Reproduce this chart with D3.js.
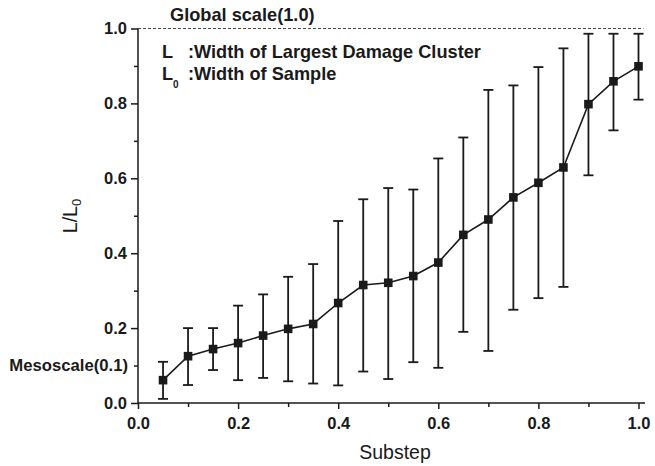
<!DOCTYPE html>
<html>
<head>
<meta charset="utf-8">
<script src="https://cdn.jsdelivr.net/npm/d3@7"></script>
<style>
  body { margin: 0; background: #fff; }
  svg { display: block; font-family: "Liberation Sans", Arial, sans-serif; }
  .tick text { font-weight: bold; font-size: 16.5px; fill: #1a1a1a; }
  .axis path { display: none; }
  .axis line { stroke: #1a1a1a; stroke-width: 1.5; }
</style>
</head>
<body>
<div class="chart"></div>
<script>
// Data
var substep = [0.05, 0.10, 0.15, 0.20, 0.25, 0.30, 0.35, 0.40, 0.45, 0.50,
               0.55, 0.60, 0.65, 0.70, 0.75, 0.80, 0.85, 0.90, 0.95, 1.00];
var ratio   = [0.061, 0.125, 0.144, 0.160, 0.180, 0.198, 0.211, 0.267, 0.315, 0.321,
               0.339, 0.375, 0.449, 0.490, 0.549, 0.588, 0.629, 0.798, 0.859, 0.899];
var lower   = [0.011, 0.048, 0.088, 0.061, 0.067, 0.058, 0.052, 0.047, 0.084, 0.064,
               0.109, 0.094, 0.190, 0.139, 0.249, 0.280, 0.310, 0.608, 0.728, 0.810];
var upper   = [0.110, 0.200, 0.200, 0.260, 0.290, 0.337, 0.371, 0.486, 0.544, 0.574,
               0.570, 0.653, 0.709, 0.836, 0.848, 0.897, 0.947, 0.986, 0.986, 0.986];

var xMajor = [0, 0.2, 0.4, 0.6, 0.8, 1.0];
var xMinor = [0.1, 0.3, 0.5, 0.7, 0.9];
var yMajor = [0, 0.2, 0.4, 0.6, 0.8, 1.0];
var yMinor = [0.1, 0.3, 0.5, 0.7, 0.9];

var globalScale = 1.0;
var mesoScale = 0.1;

var data = substep.map((s, i) => ({x: s, y: ratio[i], lo: lower[i], hi: upper[i]}));

var width = 655, height = 466;
var ink = "#1a1a1a";

var svg = d3.select(".chart").append("svg")
    .attr("width", width)
    .attr("height", height);

var x = d3.scaleLinear().domain([0, 1]).range([138, 638.5]);
var y = d3.scaleLinear().domain([0, 1]).range([403, 28.5]);

// axes
svg.append("g")
    .attr("class", "axis")
    .attr("transform", "translate(0," + y(0) + ")")
    .call(d3.axisBottom(x).tickValues(xMajor).tickSize(6).tickPadding(8).tickFormat(d3.format(".1f")));

svg.append("g")
    .attr("class", "axis")
    .attr("transform", "translate(0," + y(0) + ")")
    .call(d3.axisBottom(x).tickValues(xMinor).tickSize(4).tickFormat(""));

svg.append("g")
    .attr("class", "axis")
    .attr("transform", "translate(" + x(0) + ",0)")
    .call(d3.axisLeft(y).tickValues(yMajor).tickSize(7).tickPadding(4).tickFormat(d3.format(".1f")));

svg.append("g")
    .attr("class", "axis")
    .attr("transform", "translate(" + x(0) + ",0)")
    .call(d3.axisLeft(y).tickValues(yMinor).tickSize(4).tickFormat(""));

// axis lines
svg.append("line")
    .attr("x1", x(0)).attr("x2", x(1.013))
    .attr("y1", y(0)).attr("y2", y(0))
    .attr("stroke", ink).attr("stroke-width", 1.5);

svg.append("line")
    .attr("x1", x(0)).attr("x2", x(0))
    .attr("y1", y(0)).attr("y2", y(1))
    .attr("stroke", ink).attr("stroke-width", 1.5);

// global scale dashed reference
svg.append("line")
    .attr("x1", x(0)).attr("x2", x(1.01))
    .attr("y1", y(globalScale)).attr("y2", y(globalScale))
    .attr("stroke", "#333").attr("stroke-width", 0.9)
    .attr("stroke-dasharray", "3,2");

// error bars
var eb = svg.append("g").selectAll("g")
    .data(data)
    .enter()
    .append("g");

eb.append("line")
    .attr("x1", d => x(d.x)).attr("x2", d => x(d.x))
    .attr("y1", d => y(d.lo)).attr("y2", d => y(d.hi))
    .attr("stroke", ink).attr("stroke-width", 1.8);

eb.append("line")
    .attr("x1", d => x(d.x) - 5).attr("x2", d => x(d.x) + 5)
    .attr("y1", d => y(d.lo)).attr("y2", d => y(d.lo))
    .attr("stroke", ink).attr("stroke-width", 1.8);

eb.append("line")
    .attr("x1", d => x(d.x) - 5).attr("x2", d => x(d.x) + 5)
    .attr("y1", d => y(d.hi)).attr("y2", d => y(d.hi))
    .attr("stroke", ink).attr("stroke-width", 1.8);

// connecting line
svg.append("path")
    .datum(data)
    .attr("fill", "none")
    .attr("stroke", ink)
    .attr("stroke-width", 1.6)
    .attr("d", d3.line().x(d => x(d.x)).y(d => y(d.y)));

// square markers
svg.append("g").selectAll("rect")
    .data(data)
    .enter()
    .append("rect")
    .attr("x", d => x(d.x) - 4.3)
    .attr("y", d => y(d.y) - 4.3)
    .attr("width", 8.6)
    .attr("height", 8.6)
    .attr("fill", ink);

// labels
svg.append("text")
    .attr("x", 170)
    .attr("y", 21)
    .attr("font-size", "18.2px")
    .attr("font-weight", "bold")
    .attr("fill", ink)
    .text("Global scale(1.0)");

svg.append("text")
    .attr("x", 128)
    .attr("y", y(mesoScale) + 5)
    .attr("text-anchor", "end")
    .attr("font-size", "16.7px")
    .attr("font-weight", "bold")
    .attr("fill", ink)
    .text("Mesoscale(0.1)");

// legend text
var leg = svg.append("g")
    .attr("font-size", "18.2px")
    .attr("font-weight", "bold")
    .attr("fill", ink);

leg.append("text").attr("x", 162).attr("y", 58).text("L");
leg.append("text").attr("x", 188).attr("y", 58).text(":Width of Largest Damage Cluster");
leg.append("text").attr("x", 162).attr("y", 80).text("L");
leg.append("text").attr("x", 173).attr("y", 88).attr("font-size", "10px").text("0");
leg.append("text").attr("x", 188).attr("y", 80).text(":Width of Sample");

// axis titles
svg.append("text")
    .attr("x", 395)
    .attr("y", 459)
    .attr("text-anchor", "middle")
    .attr("font-size", "19.5px")
    .attr("fill", ink)
    .text("Substep");

var yt = svg.append("text")
    .attr("transform", "translate(77,216) rotate(-90)")
    .attr("text-anchor", "middle")
    .attr("font-size", "19.5px")
    .attr("fill", ink);
yt.append("tspan").text("L/L");
yt.append("tspan").attr("font-size", "13px").attr("dy", 4).text("0");
</script>
</body>
</html>
